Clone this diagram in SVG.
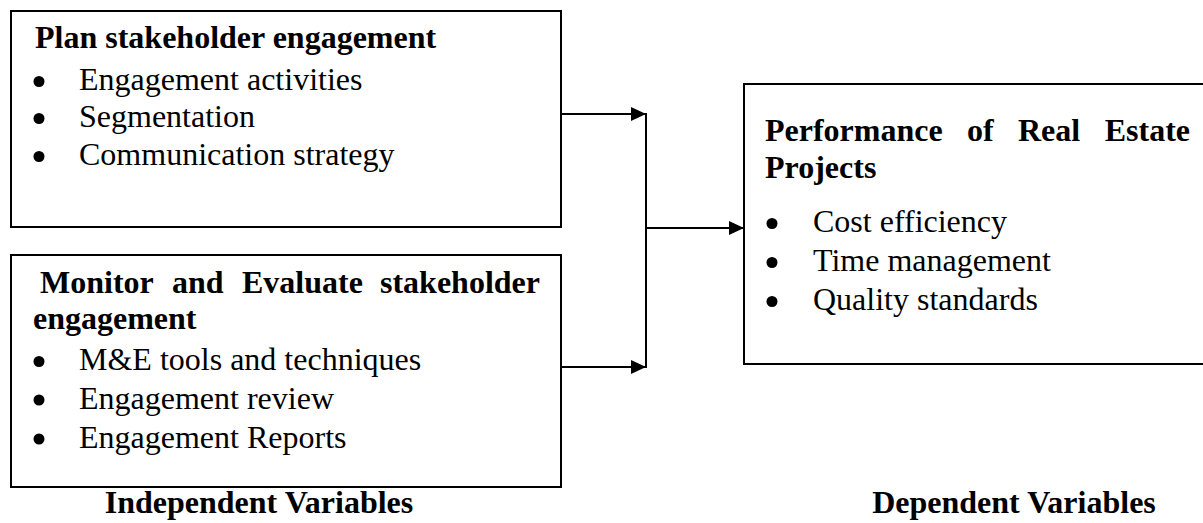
<svg xmlns="http://www.w3.org/2000/svg" width="1203" height="523" viewBox="0 0 1203 523">
<style>
.box{fill:#fff;stroke:#000;stroke-width:2}
.h{font-family:"Liberation Serif","Times New Roman",serif;font-weight:bold;font-size:32px;fill:#000}
.t{font-family:"Liberation Serif","Times New Roman",serif;font-size:32px;fill:#000}
.dot{fill:#000}
.con{fill:none;stroke:#000;stroke-width:2}
</style>
<defs>
<marker id="ah" markerUnits="userSpaceOnUse" markerWidth="16" markerHeight="14" refX="15" refY="7" orient="auto">
<path d="M0,0 L15,7 L0,14 Z" fill="#000"/>
</marker>
</defs>
<rect width="1203" height="523" fill="#fff"/>
<g id="node-plan">
<rect class="box" x="11" y="11" width="550" height="216"/>
<text class="h" x="35" y="48">Plan stakeholder engagement</text>
<circle class="dot" cx="39" cy="81.5" r="5.5"/>
<text class="t" x="79" y="90">Engagement activities</text>
<circle class="dot" cx="39" cy="118.5" r="5.5"/>
<text class="t" x="79" y="127">Segmentation</text>
<circle class="dot" cx="39" cy="156.5" r="5.5"/>
<text class="t" x="79" y="165">Communication strategy</text>
</g>
<g id="node-monitor">
<rect class="box" x="11" y="255" width="550" height="232"/>
<text class="h" y="293"><tspan x="40">Monitor</tspan><tspan x="172">and</tspan><tspan x="242">Evaluate</tspan></text>
<text class="h" x="540" y="293" text-anchor="end">stakeholder</text>
<text class="h" x="33" y="329">engagement</text>
<circle class="dot" cx="39" cy="361.5" r="5.5"/>
<text class="t" x="79" y="370">M&amp;E tools and techniques</text>
<circle class="dot" cx="39" cy="400" r="5.5"/>
<text class="t" x="79" y="408.5">Engagement review</text>
<circle class="dot" cx="39" cy="439" r="5.5"/>
<text class="t" x="79" y="447.5">Engagement Reports</text>
</g>
<g id="node-performance">
<rect class="box" x="744" y="84" width="470" height="280"/>
<text class="h" y="141"><tspan x="765">Performance</tspan><tspan x="967">of</tspan><tspan x="1018">Real</tspan></text>
<text class="h" x="1190" y="141" text-anchor="end">Estate</text>
<text class="h" x="765" y="178">Projects</text>
<circle class="dot" cx="772" cy="223.5" r="5.5"/>
<text class="t" x="813" y="232">Cost efficiency</text>
<circle class="dot" cx="772" cy="262.5" r="5.5"/>
<text class="t" x="813" y="271">Time management</text>
<circle class="dot" cx="772" cy="301.5" r="5.5"/>
<text class="t" x="813" y="310">Quality standards</text>
</g>
<g id="label-independent">
<text class="h" x="259" y="513" text-anchor="middle">Independent Variables</text>
</g>
<g id="label-dependent">
<text class="h" x="1014" y="513" text-anchor="middle">Dependent Variables</text>
</g>
<g id="connectors">
<line class="con" x1="561" y1="114" x2="646" y2="114" marker-end="url(#ah)"/>
<line class="con" x1="561" y1="367" x2="646" y2="367" marker-end="url(#ah)"/>
<line class="con" x1="646" y1="113" x2="646" y2="368"/>
<line class="con" x1="646" y1="228" x2="744" y2="228" marker-end="url(#ah)"/>
</g>
</svg>
